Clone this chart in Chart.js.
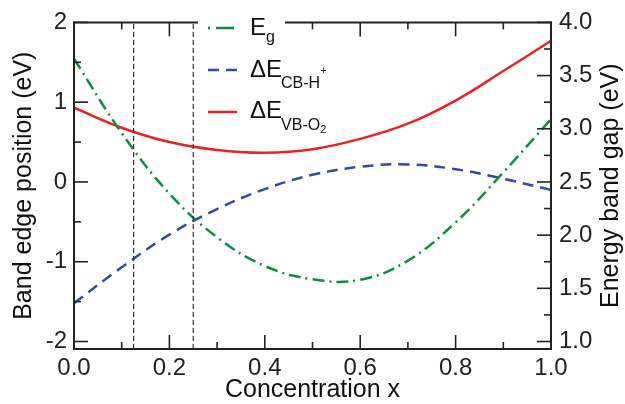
<!DOCTYPE html>
<html><head><meta charset="utf-8">
<script src="https://cdn.jsdelivr.net/npm/chart.js@4/dist/chart.umd.min.js"></script>
<style>html,body{margin:0;padding:0;background:#fff}#wrap{width:625px;height:404px}</style>
</head><body><div id="wrap"><canvas id="c" width="625" height="404"></canvas></div>
<script>
// ---- data ----
const concentration = [0.0, 0.1, 0.2, 0.3, 0.4, 0.5, 0.6, 0.7, 0.8, 0.9, 1.0];
const bandGap   = [3.66, 2.96, 2.39, 1.98, 1.71, 1.585, 1.58, 1.76, 2.12, 2.59, 3.09]; // E_g (right axis, eV)
const cbOffset  = [-1.52, -1.07, -0.66, -0.34, -0.09, 0.09, 0.19, 0.22, 0.16, 0.04, -0.10]; // dE CB-H+
const vbOffset  = [0.93, 0.68, 0.50, 0.40, 0.365, 0.41, 0.54, 0.73, 1.02, 1.39, 1.77];   // dE VB-O2
const markerX   = [0.125, 0.25];
const xTicks      = [0.0, 0.2, 0.4, 0.6, 0.8, 1.0];
const xMinorTicks = [0.1, 0.3, 0.5, 0.7, 0.9];
const leftTicks   = [-2, -1, 0, 1, 2];
const leftMinor   = [-1.5, -0.5, 0.5, 1.5];
const rightTicks  = [1.0, 1.5, 2.0, 2.5, 3.0, 3.5, 4.0];
const rightMinor  = [1.25, 1.75, 2.25, 2.75, 3.25, 3.75];
const leftRange  = [-2.094, 2];
const rightRange = [0.9295, 4];

const RED = '#ec2227', BLUE = '#2f4aad', GREEN = '#0b8f3f', INK = '#222';
const FONT = "'Liberation Sans', Arial, Helvetica, sans-serif";

const pts = (ys) => concentration.map((x, i) => ({x, y: ys[i]}));
const markerSets = markerX.map(v => ({
  data: [{x: v, y: leftRange[0]}, {x: v, y: leftRange[1]}],
  yAxisID: 'y', borderColor: '#333', borderWidth: 1.2, borderDash: [5, 3],
  pointRadius: 0, tension: 0, fill: false
}));

const frame = {
  id: 'frame',
  afterDatasetsDraw(chart) {
    const {ctx, chartArea: a, scales} = chart;
    const sx = scales.x, sl = scales.y, sr = scales.y2;
    ctx.save();
    ctx.strokeStyle = INK; ctx.lineWidth = 2; ctx.lineCap = 'butt';
    const line = (x1, y1, x2, y2) => { ctx.beginPath(); ctx.moveTo(x1, y1); ctx.lineTo(x2, y2); ctx.stroke(); };
    const gapL = 198, gapR = 285;
    line(a.left, a.top - 1, a.left, a.bottom + 1);
    line(a.right, a.top - 1, a.right, a.bottom + 1);
    line(a.left - 1, a.bottom, a.right + 1, a.bottom);
    line(a.left - 1, a.top, gapL, a.top);
    line(gapR, a.top, a.right + 1, a.top);
    ctx.lineWidth = 1.6;
    const MAJ = 14, MIN = 7;
    xTicks.forEach(v => { const p = sx.getPixelForValue(v);
      line(p, a.bottom, p, a.bottom - MAJ);
      if (p < gapL || p > gapR) line(p, a.top, p, a.top + MAJ); });
    xMinorTicks.forEach(v => { const p = sx.getPixelForValue(v);
      line(p, a.bottom, p, a.bottom - MIN);
      if (p < gapL || p > gapR) line(p, a.top, p, a.top + MIN); });
    leftTicks.forEach(v => { const p = sl.getPixelForValue(v); line(a.left, p, a.left + MAJ, p); });
    leftMinor.forEach(v => { const p = sl.getPixelForValue(v); line(a.left, p, a.left + MIN, p); });
    rightTicks.forEach(v => { const p = sr.getPixelForValue(v); line(a.right, p, a.right - MAJ, p); });
    rightMinor.forEach(v => { const p = sr.getPixelForValue(v); line(a.right, p, a.right - MIN, p); });
    ctx.restore();
  },
  afterDraw(chart) {
    const {ctx, chartArea: a} = chart;
    ctx.save();
    // right axis title, reading bottom to top
    ctx.fillStyle = '#111';
    ctx.font = `25px ${FONT}`;
    ctx.textAlign = 'center'; ctx.textBaseline = 'middle';
    ctx.translate(611, (a.top + a.bottom) / 2);
    ctx.rotate(-Math.PI / 2);
    ctx.fillText('Energy band gap (eV)', 0, 0);
    ctx.restore();

    // legend
    ctx.save();
    ctx.textAlign = 'left'; ctx.textBaseline = 'alphabetic'; ctx.fillStyle = '#111';
    const sample = (y, color, dash) => {
      ctx.save(); ctx.strokeStyle = color; ctx.lineWidth = 2.5; ctx.setLineDash(dash);
      ctx.beginPath(); ctx.moveTo(208, y); ctx.lineTo(237, y); ctx.stroke(); ctx.restore();
    };
    const txt = (s, x, y, size) => { ctx.font = `${size}px ${FONT}`; ctx.fillText(s, x, y); return x + ctx.measureText(s).width; };
    sample(28, GREEN, [2, 6, 18, 4]);
    let x = txt('E', 250, 35, 24); txt('g', x, 42, 16);
    sample(70, BLUE, [11, 7]);
    x = txt('\u0394E', 250, 77, 24); x = txt('CB-H', x - 1, 88, 16); txt('+', x, 74, 11);
    sample(112, RED, []);
    x = txt('\u0394E', 250, 118, 24); x = txt('VB-O', x - 1, 130, 16); txt('2', x, 133, 11);
    ctx.restore();
  }
};

new Chart(document.getElementById('c'), {
  type: 'line',
  data: {
    datasets: [
      ...markerSets,
      {label: 'E_g', data: pts(bandGap), yAxisID: 'y2', borderColor: GREEN, borderWidth: 2.5,
       borderDash: [12, 5, 2, 5], pointRadius: 0, tension: 0.4, fill: false},
      {label: 'ΔE_CB-H+', data: pts(cbOffset), yAxisID: 'y', borderColor: BLUE, borderWidth: 2.5,
       borderDash: [11, 7], pointRadius: 0, tension: 0.4, fill: false},
      {label: 'ΔE_VB-O2', data: pts(vbOffset), yAxisID: 'y', borderColor: RED, borderWidth: 2.5,
       pointRadius: 0, tension: 0.4, fill: false}
    ]
  },
  options: {
    responsive: false, devicePixelRatio: 1, animation: false,
    layout: {padding: {top: 19, left: 0, right: 0, bottom: 0}},
    plugins: {legend: {display: false}, tooltip: {enabled: false}},
    scales: {
      x: {
        type: 'linear', position: 'bottom', min: 0, max: 1,
        grid: {display: false, drawTicks: false}, border: {display: false},
        afterBuildTicks: s => { s.ticks = xTicks.map(v => ({value: v})); },
        ticks: {font: {size: 24, family: FONT}, color: '#222', padding: 5, maxRotation: 0,
                callback: v => Number(v).toFixed(1)},
        title: {display: true, text: 'Concentration x', color: '#111',
                font: {size: 25, family: FONT, lineHeight: 1.0}, padding: {top: 0, bottom: 1}},
        afterFit: s => { s.height = 55; }
      },
      y: {
        type: 'linear', position: 'left', min: leftRange[0], max: leftRange[1],
        grid: {display: false, drawTicks: false}, border: {display: false},
        afterBuildTicks: s => { s.ticks = leftTicks.map(v => ({value: v})); },
        ticks: {font: {size: 24, family: FONT}, color: '#222', padding: 7,
                callback: v => String(v)},
        title: {display: true, text: 'Band edge position (eV)', color: '#111',
                font: {size: 25, family: FONT}, padding: {top: 9, bottom: 0}},
        afterFit: s => { s.width = 74; }
      },
      y2: {
        type: 'linear', position: 'right', min: rightRange[0], max: rightRange[1],
        grid: {display: false, drawTicks: false}, border: {display: false},
        afterBuildTicks: s => { s.ticks = rightTicks.map(v => ({value: v})); },
        ticks: {font: {size: 24, family: FONT}, color: '#222', padding: 8,
                callback: v => Number(v).toFixed(1)},
        afterFit: s => { s.width = 74; }
      }
    }
  },
  plugins: [frame]
});
</script>
</body></html>
